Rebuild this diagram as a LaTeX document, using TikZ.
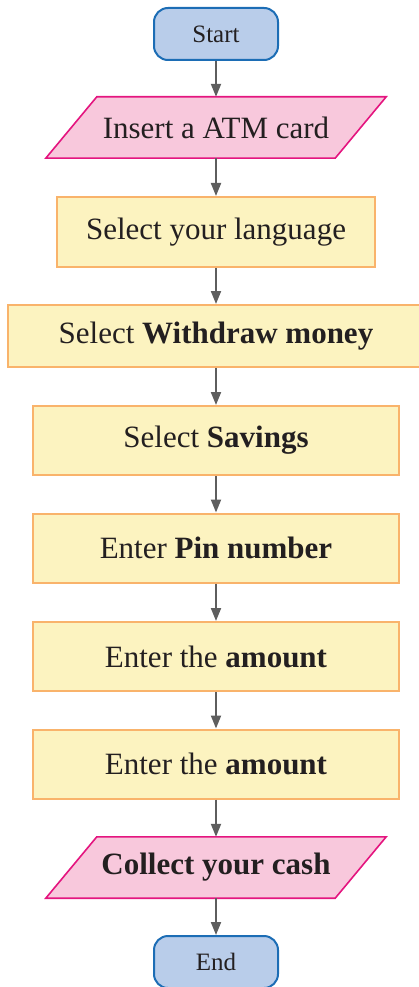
\documentclass[tikz,border=0pt]{standalone}
\usepackage{fontspec}
\setmainfont{Liberation Serif}
\usetikzlibrary{arrows.meta}
\definecolor{termfill}{HTML}{B9CDEA}
\definecolor{termdraw}{HTML}{1C6DB5}
\definecolor{iofill}{HTML}{F8C8DC}
\definecolor{iodraw}{HTML}{E4157F}
\definecolor{procfill}{HTML}{FCF3C0}
\definecolor{procdraw}{HTML}{F9B36B}
\definecolor{arr}{HTML}{5E5E5E}
\definecolor{txt}{HTML}{231F20}
\tikzset{
  term/.style={draw=termdraw, fill=termfill, line width=2pt, rounded corners=14pt,
    minimum width=124pt, minimum height=52pt, inner sep=0pt, font=\fontsize{25}{28}\selectfont, text=txt},
  proc/.style={draw=procdraw, fill=procfill, line width=2pt,
    minimum width=366pt, minimum height=69pt, inner sep=0pt, font=\fontsize{31}{34}\selectfont, text=txt},
  iotext/.style={minimum width=289pt, minimum height=61pt, inner sep=0pt, font=\fontsize{31}{34}\selectfont, text=txt},
  iobox/.style={draw=iodraw, fill=iofill, line width=1.6pt, line join=miter},
  flow/.style={draw=arr, line width=2pt, -{Triangle[length=13pt,width=10pt]}}
}
\begin{document}
\begin{tikzpicture}[x=1pt,y=-1pt]
\useasboundingbox (0,0) rectangle (418,987);
\node[term] (start) at (216,34) {Start};
% parallelogram 1
\node[iotext] (in) at (216,127.5) {};
\path[iobox] ([xshift=25.5pt]in.north west) -- ([xshift=25.5pt]in.north east) -- ([xshift=-25.5pt]in.south east) -- ([xshift=-25.5pt]in.south west) -- cycle;
\node[iotext] at (in) {Insert a ATM card};
\node[proc, minimum width=318pt, minimum height=70pt] (lang) at (216,232) {Select your language};
\node[proc, minimum width=416pt, minimum height=62pt] (wd) at (216,336) {Select \textbf{Withdraw money}};
\node[proc] (sav) at (216,440.5) {Select \textbf{Savings}};
\node[proc] (pin) at (216,548) {Enter \textbf{Pin number}};
\node[proc] (amt1) at (216,656.5) {Enter the \textbf{amount}};
\node[proc] (amt2) at (216,764) {Enter the \textbf{amount}};
% parallelogram 2
\node[iotext] (cash) at (216,867.5) {};
\path[iobox] ([xshift=25.5pt]cash.north west) -- ([xshift=25.5pt]cash.north east) -- ([xshift=-25.5pt]cash.south east) -- ([xshift=-25.5pt]cash.south west) -- cycle;
\node[iotext] at (cash) {\textbf{Collect your cash}};
\node[term] (end) at (216,962) {End};
\draw[flow] (start) -- (in);
\draw[flow] (in) -- (lang);
\draw[flow] (lang) -- (wd);
\draw[flow] (wd) -- (sav);
\draw[flow] (sav) -- (pin);
\draw[flow] (pin) -- (amt1);
\draw[flow] (amt1) -- (amt2);
\draw[flow] (amt2) -- (cash);
\draw[flow] (cash) -- (end);
\end{tikzpicture}
\end{document}
